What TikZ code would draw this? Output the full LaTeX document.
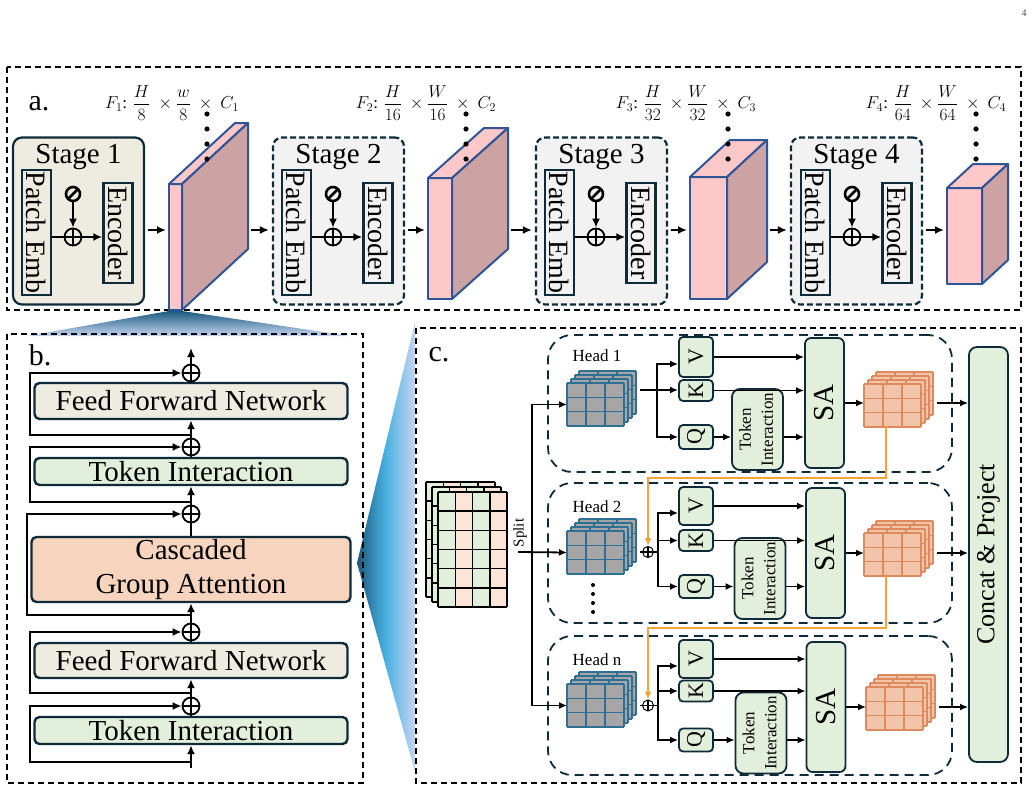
\documentclass[tikz,border=0pt]{standalone}
\usepackage{amsmath}
\usepackage{graphicx}
\usepackage{fontspec}
\setmainfont{Liberation Serif}
\usetikzlibrary{arrows.meta, positioning}

\definecolor{navy}{HTML}{0F2B3A}
\definecolor{stagebeige}{HTML}{EEECE1}
\definecolor{stagegray}{HTML}{F2F2F2}
\definecolor{tigreen}{HTML}{E2EFDA}
\definecolor{cgapeach}{HTML}{F6D4BE}
\definecolor{mappink}{HTML}{FFC8C8}
\definecolor{mapside}{HTML}{CCA2A2}
\definecolor{mapblue}{HTML}{2F5597}
\definecolor{cubegray}{HTML}{A6A6A6}
\definecolor{cubeblue}{HTML}{2E6F95}
\definecolor{warmfill}{HTML}{F2C4A9}
\definecolor{warmline}{HTML}{DD8A5E}
\definecolor{cellpeach}{HTML}{FCE4D6}
\definecolor{skiporange}{HTML}{F7A23A}
\definecolor{funneldark}{HTML}{195A80}
\definecolor{funnelmid}{HTML}{4AB2E2}
\definecolor{funnelpale}{HTML}{C6D5F0}

\begin{document}
\begin{tikzpicture}[x=1pt, y=-1pt, font=\fontsize{29}{34}\selectfont]
\useasboundingbox (0,0) rectangle (1036,792);
% Setup the styles
\tikzset{
  panel/.style={draw=black, line width=1.6, dash pattern=on 6pt off 4pt},
  letter/.style={font=\fontsize{30}{32}\selectfont},
  stage/.style={draw=navy, line width=2.2, rounded corners=9, fill=stagegray,
    dash pattern=on 6pt off 3pt, minimum width=131, minimum height=167},
  inbox/.style={draw=navy, line width=2.4, minimum width=29, inner sep=0,
    font=\fontsize{28}{30}\selectfont},
  oplus/.style={circle, draw=black, line width=1.8, minimum size=14, inner sep=0,
    path picture={\draw[line width=1.8]
      (path picture bounding box.north) -- (path picture bounding box.south)
      (path picture bounding box.west) -- (path picture bounding box.east);}},
  small oplus/.style={oplus, line width=1, minimum size=11, fill=white},
  posenc/.style={circle, draw=black, line width=2.6, minimum size=14, inner sep=0,
    path picture={\draw[line width=2.6]
      (path picture bounding box.north east) -- (path picture bounding box.south west);}},
  fmap/.style={draw=mapblue, line width=2, fill=mappink, line join=round,
    inner sep=0, outer sep=0},
  flabel/.style={font=\fontsize{17}{19}\selectfont},
  arr/.style={->, line width=2.4, >={Latex[length=9pt, width=8pt]}},
  wire/.style={line width=2.4},
  block/.style={draw=navy, line width=2.4, rounded corners=5, minimum width=313,
    inner sep=0},
  head/.style={draw=navy, line width=1.8, rounded corners=24,
    dash pattern=on 9pt off 6pt, minimum width=404},
  headlabel/.style={font=\fontsize{17}{20}\selectfont},
  qkv/.style={draw=navy, line width=1.8, rounded corners=4, fill=tigreen,
    minimum width=34, inner sep=0, font=\fontsize{22}{24}\selectfont},
  tibox/.style={draw=navy, line width=1.8, rounded corners=8, fill=tigreen,
    minimum width=51, minimum height=81, inner sep=0, font=\fontsize{17}{22}\selectfont},
  sabox/.style={draw=navy, line width=1.8, rounded corners=6, fill=tigreen,
    minimum width=39, minimum height=130, inner sep=0},
  carr/.style={->, line width=1.8, >={Latex[length=8pt, width=7pt]}},
  cwire/.style={line width=1.8},
  skipline/.style={->, draw=skiporange, line width=2, >={Latex[length=8pt, width=7pt]}},
  cell/.style={draw=black, line width=1.5},
  cube face/.style={fill=cubegray},
  cube grid/.style={draw=cubeblue, line width=1.6},
  warm cube/.style={cube face/.style={fill=warmfill},
    cube grid/.style={draw=warmline, line width=1.6}},
  cube stack/.pic={
    \foreach \k in {3,2,1,0} {
      \begin{scope}[shift={(4*\k,-4*\k)}]
        \path[cube face] (0,0) rectangle (57,43);
        \foreach \i in {0,1,2,3} {\path[cube grid] (19*\i,0) -- (19*\i,43);}
        \foreach \j in {0,1,2,3} {\path[cube grid] (0,14.333*\j) -- (57,14.333*\j);}
      \end{scope}
    }
    \node[inner sep=0, outer sep=0, minimum width=57, minimum height=43,
      anchor=north west] (-face) at (0,0) {};
    \coordinate (-out) at (73,21.5);
    \coordinate (-bot) at (22,43);
  }
}

\node[font=\fontsize{10}{12}\selectfont, text=black!70] (pagenum) at (1024,13) {4};

% Zoom funnels
\shade[top color=funneldark, bottom color=funnelpale]
  (169,311) -- (182,311) -- (350,336) -- (27,336) -- cycle;
\shade[left color=funneldark, right color=funnelpale, middle color=funnelmid]
  (357,563) -- (415,322) -- (415,772) -- cycle;

% ---------------- a. ----------------
\draw[panel] (7,67) rectangle (1021,310);
\node[letter] (la) at (39,104) {a.};

\node[stage, solid, fill=stagebeige] (S1) at (78.5,221) {};
\node[stage] (S2) at (338.5,221) {};
\node[stage] (S3) at (601.5,221) {};
\node[stage] (S4) at (856.5,221) {};
\node[below=4pt of S1.north] (T1) {Stage 1};
\node[below=4pt of S2.north] (T2) {Stage 2};
\node[below=4pt of S3.north] (T3) {Stage 3};
\node[below=4pt of S4.north] (T4) {Stage 4};

% inside the stages
\node[inbox, minimum height=125] (P1) at (36.5,232.5) {\rotatebox{-90}{Patch Emb}};
\node[inbox, minimum height=100] (E1) at (118,233) {\rotatebox{-90}{Encoder}};
\node[oplus, minimum size=17] (A1) at (73,237) {};
\node[posenc] (Z1) at (73,194) {};
\node[inbox, minimum height=125] (P2) at (296.5,232.5) {\rotatebox{-90}{Patch Emb}};
\node[inbox, minimum height=100] (E2) at (378,233) {\rotatebox{-90}{Encoder}};
\node[oplus, minimum size=17] (A2) at (333,237) {};
\node[posenc] (Z2) at (333,194) {};
\node[inbox, minimum height=125] (P3) at (559.5,232.5) {\rotatebox{-90}{Patch Emb}};
\node[inbox, minimum height=100] (E3) at (641,233) {\rotatebox{-90}{Encoder}};
\node[oplus, minimum size=17] (A3) at (596,237) {};
\node[posenc] (Z3) at (596,194) {};
\node[inbox, minimum height=125] (P4) at (815.5,232.5) {\rotatebox{-90}{Patch Emb}};
\node[inbox, minimum height=100] (E4) at (897,233) {\rotatebox{-90}{Encoder}};
\node[oplus, minimum size=17] (A4) at (852,237) {};
\node[posenc] (Z4) at (852,194) {};
\foreach \s in {1,2,3,4} {
  \draw[arr] (Z\s) -- (A\s);
  \draw[wire] (P\s.east |- A\s) -- (A\s);
  \draw[arr] (A\s) -- (E\s.west |- A\s);
}

% feature maps
\node[fmap, minimum width=13, minimum height=126] (F1) at (175.5,247) {};
\draw[fmap] (F1.north west) -- ++(66,-61) -- ++(13,0) -- (F1.north east) -- cycle;
\draw[fmap, fill=mapside] (F1.north east) -- ++(66,-61) -- ++(0,126) -- (F1.south east) -- cycle;
\node[fmap, minimum width=24, minimum height=121] (F2) at (440,238.5) {};
\draw[fmap] (F2.north west) -- ++(56,-50) -- ++(24,0) -- (F2.north east) -- cycle;
\draw[fmap, fill=mapside] (F2.north east) -- ++(56,-50) -- ++(0,121) -- (F2.south east) -- cycle;
\node[fmap, minimum width=37, minimum height=122] (F3) at (708.5,238) {};
\draw[fmap] (F3.north west) -- ++(40,-37) -- ++(37,0) -- (F3.north east) -- cycle;
\draw[fmap, fill=mapside] (F3.north east) -- ++(40,-37) -- ++(0,122) -- (F3.south east) -- cycle;
\node[fmap, minimum width=35, minimum height=96] (F4) at (964.5,236) {};
\draw[fmap] (F4.north west) -- ++(26,-24) -- ++(35,0) -- (F4.north east) -- cycle;
\draw[fmap, fill=mapside] (F4.north east) -- ++(26,-24) -- ++(0,96) -- (F4.south east) -- cycle;
\path (F1.east) ++(66,0) coordinate (F1b);
\path (F2.east) ++(56,0) coordinate (F2b);
\path (F3.east) ++(40,0) coordinate (F3b);

% sizes of the maps
\node[flabel] (L1) at (172,103) {$F_1$: $\dfrac{H}{8}\ \times\dfrac{w}{8}\ \times\ C_1$};
\node[flabel] (L2) at (426,103) {$F_2$: $\dfrac{H}{16}\ \times\dfrac{W}{16}\ \times\ C_2$};
\node[flabel] (L3) at (686,103) {$F_3$: $\dfrac{H}{32}\ \times\dfrac{W}{32}\ \times\ C_3$};
\node[flabel] (L4) at (936,103) {$F_4$: $\dfrac{H}{64}\ \times\dfrac{W}{64}\ \times\ C_4$};
\foreach \x in {207,466,728,976}
  \foreach \y in {114,129,144,159}
    \fill (\x,\y) circle[radius=2.6pt];

% Connect the stages and maps
\coordinate (ay) at (0,230);
\draw[arr, shorten <=3pt, shorten >=3pt] (S1.east |- ay) -- (F1.west |- ay);
\draw[arr, shorten <=3pt, shorten >=3pt] (F1b |- ay) -- (S2.west |- ay);
\draw[arr, shorten <=3pt, shorten >=3pt] (S2.east |- ay) -- (F2.west |- ay);
\draw[arr, shorten <=3pt, shorten >=3pt] (F2b |- ay) -- (S3.west |- ay);
\draw[arr, shorten <=3pt, shorten >=3pt] (S3.east |- ay) -- (F3.west |- ay);
\draw[arr, shorten <=3pt, shorten >=3pt] (F3b |- ay) -- (S4.west |- ay);
\draw[arr, shorten <=3pt, shorten >=3pt] (S4.east |- ay) -- (F4.west |- ay);

% ---------------- b. ----------------
\draw[panel] (7,334) rectangle (363,783);
\node[letter] (lb) at (40,355) {b.};
\node[block, fill=stagebeige, minimum height=36] (FF1) at (191,401) {Feed Forward Network};
\node[block, fill=tigreen, minimum height=27] (TK1) at (191,471.5) {Token Interaction};
\node[block, fill=cgapeach, minimum width=319, minimum height=65, align=center]
  (CGA) at (191,569.5) {Cascaded\\Group Attention};
\node[block, fill=stagebeige, minimum height=35] (FF2) at (191,660.5) {Feed Forward Network};
\node[block, fill=tigreen, minimum height=27] (TK2) at (191,730.5) {Token Interaction};
\node[oplus, minimum size=17] (b1) at (191,373) {};
\node[oplus, minimum size=17] (b2) at (191,447) {};
\node[oplus, minimum size=17] (b3) at (191,514) {};
\node[oplus, minimum size=17] (b4) at (191,632) {};
\node[oplus, minimum size=17] (b5) at (191,706) {};
\coordinate (bin) at (191,768);
\coordinate (bout) at (191,348);
\coordinate (s1) at (191,435);
\coordinate (s2) at (191,502);
\coordinate (s3) at (191,615);
\coordinate (s4) at (191,693);
\coordinate (s5) at (191,762);

\draw[arr] (bin) -- (TK2);
\draw[wire] (TK2) -- (b5);
\draw[arr] (b5) -- (FF2);
\draw[wire] (FF2) -- (b4);
\draw[arr] (b4) -- (CGA);
\draw[wire] (CGA) -- (b3);
\draw[arr] (b3) -- (TK1);
\draw[wire] (TK1) -- (b2);
\draw[arr] (b2) -- (FF1);
\draw[wire] (FF1) -- (b1);
\draw[arr] (b1) -- (bout);
% residual paths
\draw[arr] (s1) -- ++(-161,0) |- (b1);
\draw[arr] (s2) -- ++(-161,0) |- (b2);
\draw[arr] (s3) -- ++(-164,0) |- (b3);
\draw[arr] (s4) -- ++(-161,0) |- (b4);
\draw[arr] (s5) -- ++(-161,0) |- (b5);

% ---------------- c. ----------------
\draw[panel] (416,328) rectangle (1021,783);
\node[letter] (lc) at (439,355) {c.};
\node[head, minimum height=137] (H1) at (750,403.5) {};
\node[head, minimum height=140] (H2) at (750,553) {};
\node[head, minimum height=139] (Hn) at (750,705.5) {};
\node[headlabel] (HL1) at (597,356) {Head 1};
\node[headlabel] (HL2) at (597,507) {Head 2};
\node[headlabel] (HLn) at (597,660) {Head n};

% input tokens
\foreach \k in {2,1,0} {
  \begin{scope}[shift={(438-6*\k,492-5*\k)}]
    \fill[tigreen] (0,0) rectangle (17.25,115);
    \fill[cellpeach] (17.25,0) rectangle (34.5,115);
    \fill[tigreen] (34.5,0) rectangle (51.75,115);
    \fill[cellpeach] (51.75,0) rectangle (69,115);
    \foreach \i in {0,...,4} {\draw[cell] (17.25*\i,0) -- (17.25*\i,115);}
    \foreach \j in {0,...,6} {\draw[cell] (0,19.1667*\j) -- (69,19.1667*\j);}
  \end{scope}
}
\node[headlabel, font=\fontsize{15}{17}\selectfont] (split) at (520,533) {\rotatebox{90}{Split}};

% heads
\pic (hc1) at (567,383) {cube stack};
\pic (hc2) at (567,531) {cube stack};
\pic (hcn) at (567,684) {cube stack};
\pic[warm cube] (oc1) at (864,384) {cube stack};
\pic[warm cube] (oc2) at (864,533) {cube stack};
\pic[warm cube] (ocn) at (866,687) {cube stack};

\node[qkv, minimum height=40] (V1) at (696,357) {\rotatebox{90}{V}};
\node[qkv, minimum height=21] (K1) at (696,390.5) {\rotatebox{90}{K}};
\node[qkv, minimum height=24] (Q1) at (696,437) {\rotatebox{90}{Q}};
\node[qkv, minimum height=38] (V2) at (696,506) {\rotatebox{90}{V}};
\node[qkv, minimum height=21] (K2) at (696,540.5) {\rotatebox{90}{K}};
\node[qkv, minimum height=23] (Q2) at (696,586.5) {\rotatebox{90}{Q}};
\node[qkv, minimum height=38] (Vn) at (696,659) {\rotatebox{90}{V}};
\node[qkv, minimum height=21] (Kn) at (696,691) {\rotatebox{90}{K}};
\node[qkv, minimum height=23] (Qn) at (696,740) {\rotatebox{90}{Q}};

\node[tibox] (TI1) at (757.5,429.5)
  {\rotatebox{90}{\begin{tabular}{@{}c@{}}Token\\Interaction\end{tabular}}};
\node[tibox] (TI2) at (760,578.5)
  {\rotatebox{90}{\begin{tabular}{@{}c@{}}Token\\Interaction\end{tabular}}};
\node[tibox] (TIn) at (761,733)
  {\rotatebox{90}{\begin{tabular}{@{}c@{}}Token\\Interaction\end{tabular}}};
\node[sabox] (SA1) at (824.5,403) {\rotatebox{90}{SA}};
\node[sabox] (SA2) at (825.5,553) {\rotatebox{90}{SA}};
\node[sabox] (SAn) at (826,707) {\rotatebox{90}{SA}};
\node[sabox, minimum height=415, rounded corners=8, font=\fontsize{26}{30}\selectfont]
  (CP) at (988.5,554.5) {\rotatebox{90}{Concat \& Project}};

\node[small oplus] (ad2) at (648,552) {};
\node[small oplus] (adn) at (648,705.5) {};
\foreach \y in {585,594,603,612}
  \fill (593,\y) circle[radius=2pt];

% split to the heads
\coordinate (splin) at (518,552);
\coordinate (spl) at (532,552);
\draw[carr] (splin) -- (hc2-face.west);
\draw[carr] (spl) |- (hc1-face.west);
\draw[carr] (spl) |- (hcn-face.west);

% branch to Q, K, V
\coordinate (br1) at (657,390);
\coordinate (br2) at (658,552);
\coordinate (brn) at (658,705.5);
\draw[cwire] (hc1-out |- br1) -- (br1);
\draw[cwire] (hc2-out |- ad2) -- (ad2);
\draw[cwire] (ad2) -- (br2);
\draw[cwire] (hcn-out |- adn) -- (adn);
\draw[cwire] (adn) -- (brn);
\draw[carr] (br1) |- ([yshift=-7pt]V1.west);
\draw[carr] (br1) -- (K1.west |- br1);
\draw[carr] (br1) |- (Q1.west);
\draw[carr] (br2) |- ([yshift=-7pt]V2.west);
\draw[carr] (br2) |- (K2.west);
\draw[carr] (br2) |- (Q2.west);
\draw[carr] (brn) |- ([yshift=-7pt]Vn.west);
\draw[carr] (brn) |- (Kn.west);
\draw[carr] (brn) |- (Qn.west);

% into self attention
\draw[carr] (V1) -- (V1 -| SA1.west);
\draw[carr] (K1) -- (K1 -| SA1.west);
\draw[carr] (Q1) -- (Q1 -| TI1.west);
\draw[carr] (TI1.east |- Q1) -- (SA1.west |- Q1);
\draw[carr] (V2) -- (V2 -| SA2.west);
\draw[carr] (K2) -- (K2 -| SA2.west);
\draw[carr] (Q2) -- (Q2 -| TI2.west);
\draw[carr] (TI2.east |- Q2) -- (SA2.west |- Q2);
\draw[carr] (Vn) -- (Vn -| SAn.west);
\draw[carr] (Kn) -- (Kn -| SAn.west);
\draw[carr] (Qn) -- (Qn -| TIn.west);
\draw[carr] (TIn.east |- Qn) -- (SAn.west |- Qn);

% outputs
\draw[carr] (SA1) -- (SA1 -| oc1-face.west);
\draw[carr] (SA2) -- (SA2 -| oc2-face.west);
\draw[carr] (SAn) -- (SAn -| ocn-face.west);
\draw[carr] (oc1-out |- SA1) -- (SA1 -| CP.west);
\draw[carr] (oc2-out |- SA2) -- (SA2 -| CP.west);
\draw[carr] (ocn-out |- SAn) -- (SAn -| CP.west);

% cascade to the next head
\draw[skipline] (oc1-bot) -- ++(0,51) -| (ad2);
\draw[skipline] (oc2-bot) -- ++(0,52) -| (adn);
\end{tikzpicture}
\end{document}
